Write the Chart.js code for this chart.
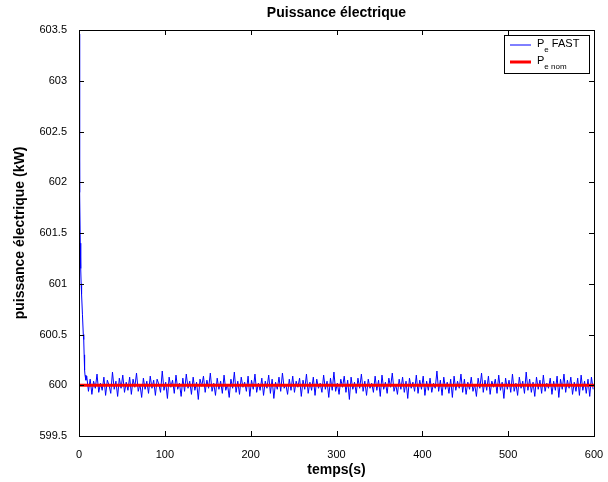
<!DOCTYPE html>
<html>
<head>
<meta charset="utf-8">
<script src="https://cdn.jsdelivr.net/npm/chart.js@4"></script>
<style>
  html, body { margin: 0; padding: 0; background: #fff; }
  #wrap { width: 608px; height: 482px; }
</style>
</head>
<body>
<div id="wrap"><canvas id="chart1"></canvas></div>
<script>
// start of the FAST run (t, P)
const transientTime = [0, 0.5, 1, 1.5, 2, 2.5, 3, 4, 5, 5.5, 6, 6.5, 7, 8]
const transientPower = [603.46, 602.6, 601.9, 601.4, 601.15, 601.0, 600.9, 600.7, 600.5, 600.45, 600.3, 600.15, 600.1, 600.05]

// after the transient, one sample every 2 s starting at t = 9
const noiseStart = 9
const noiseStep = 2
const noisePower = [
  600.09, 599.94, 600.06, 599.91, 600.04, 599.97, 600.11, 599.93, 600.02, 599.95, 600.08, 599.90, 600.05, 600.00, 599.92, 600.13, 599.96, 600.04, 599.89, 600.07,
  599.97, 600.10, 599.93, 600.03, 599.95, 600.08, 599.91, 600.06, 599.98, 600.12, 599.94, 600.01, 599.88, 600.07, 599.96, 600.04, 599.92, 600.09, 599.97, 600.05,
  599.90, 600.06, 600.01, 599.93, 600.14, 599.95, 600.03, 599.87, 600.08, 599.98, 600.05, 599.92, 600.10, 599.96, 600.02, 599.89, 600.07, 599.94, 600.11, 599.97,
  600.04, 599.91, 600.08, 599.95, 600.03, 599.86, 600.06, 599.99, 600.09, 599.93, 600.05, 599.97, 600.12, 599.94, 600.02, 599.90, 600.07, 599.96, 600.04, 599.92,
  600.10, 599.95, 600.01, 599.88, 600.06, 599.97, 600.13, 599.93, 600.04, 599.91, 600.08, 599.98, 600.03, 599.94, 600.09, 599.89, 600.05, 599.96, 600.11, 599.93,
  600.02, 599.95, 600.07, 599.90, 600.04, 599.97, 600.10, 599.92, 600.06, 599.87, 600.03, 599.96, 600.08, 599.94, 600.12, 599.97, 600.01, 599.91, 600.06, 599.95,
  600.09, 599.93, 600.04, 599.98, 600.07, 599.89, 600.05, 599.96, 600.11, 599.92, 600.03, 599.95, 600.08, 599.90, 600.06, 599.97, 600.02, 599.93, 600.10, 599.96,
  600.04, 599.88, 600.07, 599.95, 600.13, 599.94, 600.02, 599.91, 600.06, 599.98, 600.09, 599.93, 600.05, 599.86, 600.08, 599.96, 600.03, 599.92, 600.07, 599.97,
  600.11, 599.94, 600.04, 599.90, 600.06, 599.97, 600.02, 599.93, 600.09, 599.95, 600.05, 599.89, 600.10, 599.96, 600.03, 599.92, 600.07, 599.98, 600.12, 599.94,
  600.01, 599.91, 600.06, 599.96, 600.08, 599.93, 600.04, 599.87, 600.07, 599.97, 600.03, 599.94, 600.10, 599.92, 600.05, 599.96, 600.09, 599.90, 600.04, 599.95,
  600.07, 599.93, 600.02, 599.97, 600.14, 599.94, 600.05, 599.90, 600.08, 599.96, 600.03, 599.92, 600.06, 599.88, 600.09, 599.95, 600.04, 599.97, 600.11, 599.93,
  600.06, 599.91, 600.03, 599.96, 600.08, 599.94, 600.01, 599.89, 600.07, 599.97, 600.12, 599.93, 600.05, 599.95, 600.09, 599.91, 600.04, 599.98, 600.06, 599.92,
  600.10, 599.95, 600.03, 599.87, 600.07, 599.96, 600.05, 599.93, 600.11, 599.94, 600.02, 599.90, 600.08, 599.97, 600.04, 599.92, 600.13, 599.95, 600.06, 599.93,
  600.03, 599.89, 600.08, 599.96, 600.05, 599.92, 600.10, 599.94, 600.02, 599.97, 600.07, 599.91, 600.04, 599.95, 600.09, 599.88, 600.06, 599.96, 600.11, 599.93,
  600.05, 599.97, 600.08, 599.91, 600.03, 599.94, 600.07, 599.90, 600.10, 599.95, 600.04, 599.92, 600.06, 599.89, 600.08, 599.96
]

// nominal power
const nomTime = [0, 600]
const nomPower = [600, 600]

const yTicks = [599.5, 600, 600.5, 601, 601.5, 602, 602.5, 603, 603.5]
const xTicks = [0, 100, 200, 300, 400, 500, 600]

let fastPoints = []
transientTime.forEach((t, i) => {
    fastPoints.push({x: t, y: transientPower[i]})
})
noisePower.forEach((p, i) => {
    fastPoints.push({x: noiseStart + i * noiseStep, y: p})
})
let nomPoints = nomTime.map((t, i) => ({x: t, y: nomPower[i]}))

const fontName = '"Liberation Sans", Arial, Helvetica, sans-serif'

// matlab look: full box, inward ticks, title over the plot, legend with subscripts
const matlabBox = {
    id: 'matlabBox',
    afterDraw(chart) {
        const ctx = chart.ctx
        const area = chart.chartArea
        const xs = chart.scales.x
        const ys = chart.scales.y
        ctx.save()
        ctx.strokeStyle = '#000'
        ctx.lineWidth = 1
        ctx.beginPath()
        ctx.rect(Math.round(area.left) + 0.5, Math.round(area.top) + 0.5,
                 Math.round(area.right - area.left), Math.round(area.bottom - area.top))
        ctx.stroke()

        ctx.beginPath()
        xTicks.forEach(v => {
            const px = Math.round(xs.getPixelForValue(v)) + 0.5
            ctx.moveTo(px, area.bottom); ctx.lineTo(px, area.bottom - 5)
            ctx.moveTo(px, area.top); ctx.lineTo(px, area.top + 5)
        })
        yTicks.forEach(v => {
            const py = Math.round(ys.getPixelForValue(v)) + 0.5
            ctx.moveTo(area.left, py); ctx.lineTo(area.left + 5, py)
            ctx.moveTo(area.right, py); ctx.lineTo(area.right - 5, py)
        })
        ctx.stroke()

        // title
        ctx.fillStyle = '#000'
        ctx.font = 'bold 14px ' + fontName
        ctx.textAlign = 'center'
        ctx.textBaseline = 'middle'
        ctx.fillText('Puissance électrique', (area.left + area.right) / 2, 13)

        // legend
        const bw = 85, bh = 38
        const bx = Math.round(area.right) - 5 - bw
        const by = Math.round(area.top) + 5
        ctx.fillStyle = '#fff'
        ctx.fillRect(bx, by, bw, bh)
        ctx.strokeStyle = '#000'
        ctx.strokeRect(bx + 0.5, by + 0.5, bw, bh)

        const entries = [
            {color: '#0000ff', width: 1, sub: 'e', rest: ' FAST', y: by + 10},
            {color: '#ff0000', width: 3, sub: 'e nom', rest: '', y: by + 27}
        ]
        entries.forEach(e => {
            ctx.strokeStyle = e.color
            ctx.lineWidth = e.width
            ctx.beginPath()
            ctx.moveTo(bx + 6, e.y)
            ctx.lineTo(bx + 27, e.y)
            ctx.stroke()
            ctx.fillStyle = '#000'
            ctx.textAlign = 'left'
            ctx.textBaseline = 'middle'
            ctx.font = '11px ' + fontName
            ctx.fillText('P', bx + 33, e.y - 1)
            const pw = ctx.measureText('P').width
            ctx.font = '8px ' + fontName
            ctx.fillText(e.sub, bx + 33 + pw, e.y + 5)
            const sw = ctx.measureText(e.sub).width
            if (e.rest) {
                ctx.font = '11px ' + fontName
                ctx.fillText(e.rest, bx + 33 + pw + sw, e.y - 1)
            }
        })
        ctx.restore()
    }
}

function renderChart() {
    const ctx = document.querySelector('#chart1').getContext('2d')
    const chart1 = new Chart(ctx, {
        type: 'line',
        data: {
            datasets: [{
                label: 'Pe FAST',
                data: fastPoints,
                borderColor: '#0000ff',
                borderWidth: 1,
                pointRadius: 0,
                tension: 0,
                order: 2
            }, {
                label: 'Pe nom',
                data: nomPoints,
                borderColor: '#ff0000',
                borderWidth: 3,
                pointRadius: 0,
                order: 1
            }]
        },
        options: {
            responsive: true,
            maintainAspectRatio: false,
            animation: false,
            events: [],
            layout: {
                padding: {top: 30, right: 14, left: 0, bottom: 0}
            },
            plugins: {
                legend: {display: false},
                title: {display: false},
                tooltip: {enabled: false}
            },
            scales: {
                x: {
                    type: 'linear',
                    min: 0,
                    max: 600,
                    afterBuildTicks: scale => { scale.ticks = xTicks.map(v => ({value: v})) },
                    afterFit: scale => { scale.height = 46 },
                    grid: {display: false},
                    border: {display: true, color: '#000'},
                    ticks: {
                        color: '#000',
                        font: {family: fontName, size: 11},
                        padding: 4,
                        maxRotation: 0
                    },
                    title: {
                        display: true,
                        text: 'temps(s)',
                        color: '#000',
                        font: {family: fontName, size: 14, weight: 'bold'},
                        padding: {top: 0, bottom: 3.6}
                    }
                },
                y: {
                    type: 'linear',
                    min: 599.5,
                    max: 603.5,
                    afterBuildTicks: scale => { scale.ticks = yTicks.map(v => ({value: v})) },
                    afterFit: scale => { scale.width = 79 },
                    grid: {display: false},
                    border: {display: true, color: '#000'},
                    ticks: {
                        color: '#000',
                        font: {family: fontName, size: 11},
                        padding: 4,
                        callback: v => String(v)
                    },
                    title: {
                        display: true,
                        text: 'puissance électrique (kW)',
                        color: '#000',
                        font: {family: fontName, size: 14, weight: 'bold'},
                        padding: {top: 11.6, bottom: 0}
                    }
                }
            }
        },
        plugins: [matlabBox]
    })
}

renderChart()
</script>
</body>
</html>
